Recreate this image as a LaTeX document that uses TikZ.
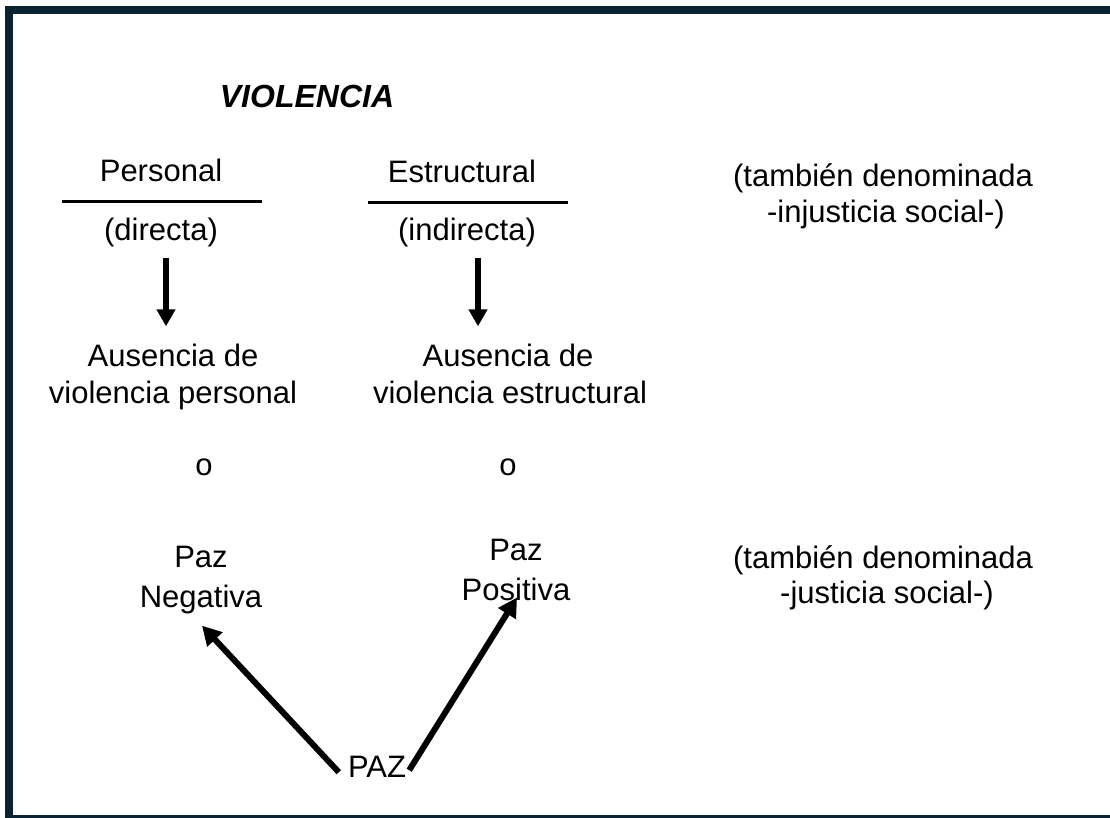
\documentclass[tikz,border=0pt]{standalone}
\usepackage{fontspec}
\setmainfont{Liberation Sans}
\usetikzlibrary{arrows.meta}
\definecolor{framecol}{HTML}{0A2332}
\tikzset{
  txt/.style={anchor=base, inner sep=0pt, font=\fontsize{31}{37}\selectfont},
  bigarrow/.style={draw, line width=5.5pt, -{Triangle[width=18pt,length=17pt]}},
  pazarrow/.style={draw, line width=6pt, -{Triangle[width=20pt,length=19pt]}}
}
\begin{document}
\begin{tikzpicture}[x=1pt,y=-1pt]
\useasboundingbox (0,0) rectangle (1110,817);
\path[draw=framecol,line width=8pt] (9,10) rectangle (1135,819);

\node[txt,font=\fontsize{32}{38}\selectfont\bfseries\itshape] (viol) at (307,107) {VIOLENCIA};

\node[txt] (pers) at (161,181) {Personal};
\node[txt] (dir) at (161,240) {(directa)};
\node[txt] (estr) at (462,182) {Estructural};
\node[txt] (indir) at (467,240) {(indirecta)};
\node[txt] (tamb1) at (883,186) {(también denominada};
\node[txt] (tamb2) at (886,222) {-injusticia social-)};

\path[draw,line width=3pt] (62,201) -- (262,201);
\path[draw,line width=3pt] (368,202) -- (568,202);

\node[txt] (ausP1) at (173,366) {Ausencia de};
\node[txt] (ausP2) at (173,403) {violencia personal};
\node[txt] (ausE1) at (508,366) {Ausencia de};
\node[txt] (ausE2) at (510,403) {violencia estructural};

\node[txt] (oP) at (204,475) {o};
\node[txt] (oE) at (508,475) {o};

\node[txt] (pazN1) at (201,567) {Paz};
\node[txt] (pazN2) at (201,607) {Negativa};
\node[txt] (pazP1) at (516,560) {Paz};
\node[txt] (pazP2) at (516,600) {Positiva};
\node[txt] (tamb3) at (883,568) {(también denominada};
\node[txt] (tamb4) at (887,603) {-justicia social-)};

\node[txt] (paz) at (377,777) {PAZ};

\path[bigarrow] ([xshift=5pt,yshift=-11pt]dir.south) -- ([xshift=-7pt,yshift=17pt]ausP1.north);
\path[bigarrow] ([xshift=11pt,yshift=-11pt]indir.south) -- ([xshift=-30pt,yshift=17pt]ausE1.north);

\path[pazarrow] ([xshift=-9pt,yshift=5pt]paz.south west) -- ([xshift=1pt,yshift=-12pt]pazN2.south);
\path[pazarrow] ([xshift=3pt,yshift=7pt]paz.south east) -- ([xshift=1pt,yshift=3pt]pazP2.south);
\end{tikzpicture}
\end{document}
